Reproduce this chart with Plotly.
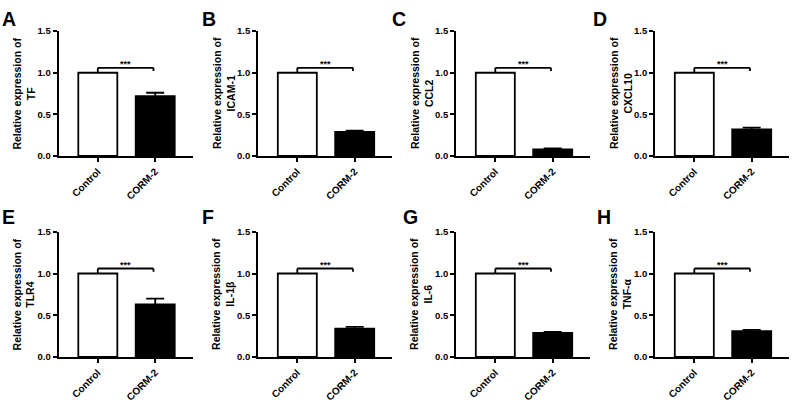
import plotly.graph_objects as go

# Datos
panel_letters = ["A", "B", "C", "D", "E", "F", "G", "H"]
genes = ["TF", "ICAM-1", "CCL2", "CXCL10", "TLR4", "IL-1β", "IL-6", "TNF-α"]
groups = ["Control", "CORM-2"]
control_mean = [1.00, 1.00, 1.00, 1.00, 1.00, 1.00, 1.00, 1.00]
corm_mean = [0.72, 0.29, 0.08, 0.32, 0.63, 0.34, 0.29, 0.31]
corm_sem = [0.04, 0.015, 0.01, 0.02, 0.07, 0.02, 0.01, 0.015]
significance = ["***", "***", "***", "***", "***", "***", "***", "***"]
y_ticks = [0.0, 0.5, 1.0, 1.5]
y_tick_labels = ["0.0", "0.5", "1.0", "1.5"]

# Geometría en píxeles
W, H = 792, 403
FONT = "Liberation Sans, Arial, sans-serif"
col_left = [58.5, 258, 456, 655]
axis_w = 134
rows = [(26, 155), (233.3, 362.7)]  # (top, bottom) del área de trazado
letter_x = [[0, 200, 390, 591], [0, 200, 401, 595]]
letter_y = [13.5, 218.5]
LW = 1.8

fig = go.Figure()
layout = {}

for i, gene in enumerate(genes):
    r, c = divmod(i, 4)
    n = "" if i == 0 else str(i + 1)
    xa, ya = "x" + n, "y" + n
    left = col_left[c]
    top, bot = rows[r]

    # barra control (blanca)
    fig.add_trace(go.Bar(
        x=[0], y=[control_mean[i]], width=0.68,
        marker=dict(color="white", line=dict(color="black", width=LW)),
        xaxis=xa, yaxis=ya, showlegend=False,
    ))
    # barra CORM-2 (negra) con barra de error
    fig.add_trace(go.Bar(
        x=[1], y=[corm_mean[i]], width=0.68,
        marker=dict(color="black", line=dict(color="black", width=LW)),
        error_y=dict(type="data", array=[corm_sem[i]], visible=True,
                     color="black", thickness=LW, width=9),
        xaxis=xa, yaxis=ya, showlegend=False,
    ))

    layout["xaxis" + n] = dict(
        domain=[left / W, (left + axis_w) / W], anchor=ya,
        range=[-0.685, 1.65], tickvals=[0, 1], ticktext=groups, tickangle=-45,
        showline=True, linecolor="black", linewidth=LW,
        ticks="outside", ticklen=4, tickwidth=LW, tickcolor="black",
        showgrid=False, zeroline=False,
        tickfont=dict(family=FONT, size=10, color="black", weight="bold"),
    )
    layout["yaxis" + n] = dict(
        domain=[(H - bot) / H, (H - top) / H], anchor=xa,
        range=[0, 1.5], tickvals=y_ticks, ticktext=y_tick_labels,
        showline=True, linecolor="black", linewidth=LW,
        ticks="outside", ticklen=4, tickwidth=LW, tickcolor="black",
        showgrid=False, zeroline=False,
        tickfont=dict(family=FONT, size=9.5, color="black", weight="bold"),
    )

    # corchete de significancia
    yb = 1.06
    for x0, y0, x1, y1 in [(0, yb, 0.97, yb), (0, control_mean[i], 0, yb), (0.97, 1.02, 0.97, yb)]:
        fig.add_shape(type="line", xref=xa, yref=ya, x0=x0, y0=y0, x1=x1, y1=y1,
                      line=dict(color="black", width=LW))
    fig.add_annotation(xref=xa, yref=ya, x=0.485, y=yb, text=significance[i],
                       showarrow=False, yanchor="bottom", yshift=-3,
                       font=dict(family=FONT, size=9, color="black", weight="bold"))

    # título del eje y
    fig.add_annotation(xref="paper", yref="paper", x=(left - 34.5) / W,
                       y=(H - (top + bot) / 2) / H,
                       text="Relative expression of<br>" + gene, textangle=-90,
                       showarrow=False, xanchor="center", yanchor="middle",
                       font=dict(family=FONT, size=10.5, color="black", weight="bold"))

    # letra del panel
    fig.add_annotation(xref="paper", yref="paper", x=letter_x[r][c] / W,
                       y=(H - letter_y[r]) / H, text=panel_letters[i],
                       showarrow=False, xanchor="left", yanchor="middle",
                       font=dict(family=FONT, size=19.5, color="black", weight="bold"))

fig.update_layout(
    width=W, height=H, margin=dict(l=0, r=0, t=0, b=0),
    plot_bgcolor="white", paper_bgcolor="white", barmode="overlay",
    **layout,
)

# quita el margen por defecto del <body> y la barra de herramientas
fig.write_html("out.html", config={"displayModeBar": False},
               post_script="document.body.style.margin='0';")
